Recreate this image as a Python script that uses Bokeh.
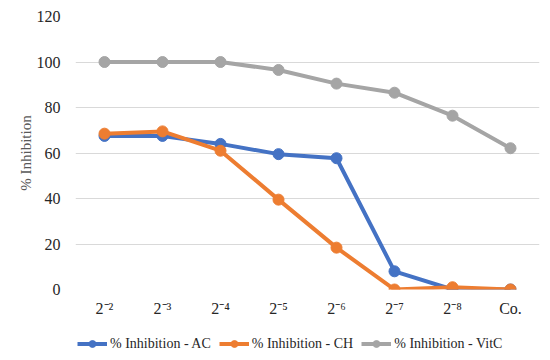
from bokeh.plotting import figure
from bokeh.layouts import column
from bokeh.models import FactorRange, Range1d, Legend, LegendItem, FixedTicker
from bokeh.embed import file_html
from bokeh.resources import INLINE

categories = ["2⁻²", "2⁻³", "2⁻⁴", "2⁻⁵", "2⁻⁶", "2⁻⁷", "2⁻⁸", "Co."]
ac = [67.5, 67.5, 64.0, 59.5, 57.7, 8.0, 0.0, 0.0]
ch = [68.5, 69.5, 61.0, 39.5, 18.4, 0.0, 1.0, 0.0]
vitc = [100.0, 100.0, 100.0, 96.5, 90.5, 86.5, 76.4, 62.1]
series_names = ["% Inhibition - AC", "% Inhibition - CH", "% Inhibition - VitC"]
colors = ["#4472C4", "#ED7D31", "#A5A5A5"]
y_ticks = [0, 20, 40, 60, 80, 100, 120]

FONT = "Liberation Serif"

p = figure(width=545, height=325, x_range=FactorRange(*categories),
           y_range=Range1d(0, 120), output_backend="svg", toolbar_location=None,
           min_border_left=75, min_border_right=6, min_border_top=16, min_border_bottom=36)
p.outline_line_color = None
p.xgrid.grid_line_color = None
p.ygrid.grid_line_color = "#D9D9D9"
p.ygrid.grid_line_width = 1

p.yaxis.ticker = FixedTicker(ticks=y_ticks)
for ax in (p.xaxis[0], p.yaxis[0]):
    ax.axis_line_color = None
    ax.major_tick_line_color = None
    ax.minor_tick_line_color = None
    ax.major_tick_in = 0
    ax.major_tick_out = 0
    ax.major_label_text_font = FONT
    ax.major_label_text_font_size = "16px"
    ax.major_label_text_color = "#262626"
p.xaxis.major_label_standoff = 10
p.yaxis.major_label_standoff = 15
p.yaxis.axis_label = "% Inhibition"
p.yaxis.axis_label_text_font = FONT
p.yaxis.axis_label_text_font_style = "normal"
p.yaxis.axis_label_text_font_size = "15px"
p.yaxis.axis_label_text_color = "#595959"
p.yaxis.axis_label_standoff = 0

for name, vals, c in zip(series_names, [ac, ch, vitc], colors):
    p.line(categories, vals, line_color=c, line_width=4)
    p.scatter(categories, vals, size=11, fill_color=c, line_color=c)

# legend strip below the chart (its glyph renderers sit outside the visible range)
lf = figure(width=545, height=33, x_range=Range1d(0, 1), y_range=Range1d(0, 1),
            output_backend="svg", toolbar_location=None,
            x_axis_location=None, y_axis_location=None,
            min_border_left=0, min_border_right=0, min_border_top=0, min_border_bottom=0)
lf.grid.visible = False
lf.outline_line_color = None
items = []
for name, c in zip(series_names, colors):
    l = lf.line(x=[-10, -9], y=[-10, -10], line_color=c, line_width=4)
    s = lf.scatter(x=[-10], y=[-10], size=11, fill_color=c, line_color=c)
    items.append(LegendItem(label=name, renderers=[l, s]))

legend = Legend(items=items, orientation="horizontal", border_line_color=None,
                background_fill_alpha=0,
                label_text_font=FONT, label_text_font_size="14px",
                label_text_color="#262626", glyph_width=30, glyph_height=17,
                label_height=17, spacing=8, padding=0, margin=0, label_standoff=3,
                location=(2, 6))
lf.add_layout(legend, "center")

open("out.html", "w").write(file_html(column(p, lf, spacing=0), INLINE))
